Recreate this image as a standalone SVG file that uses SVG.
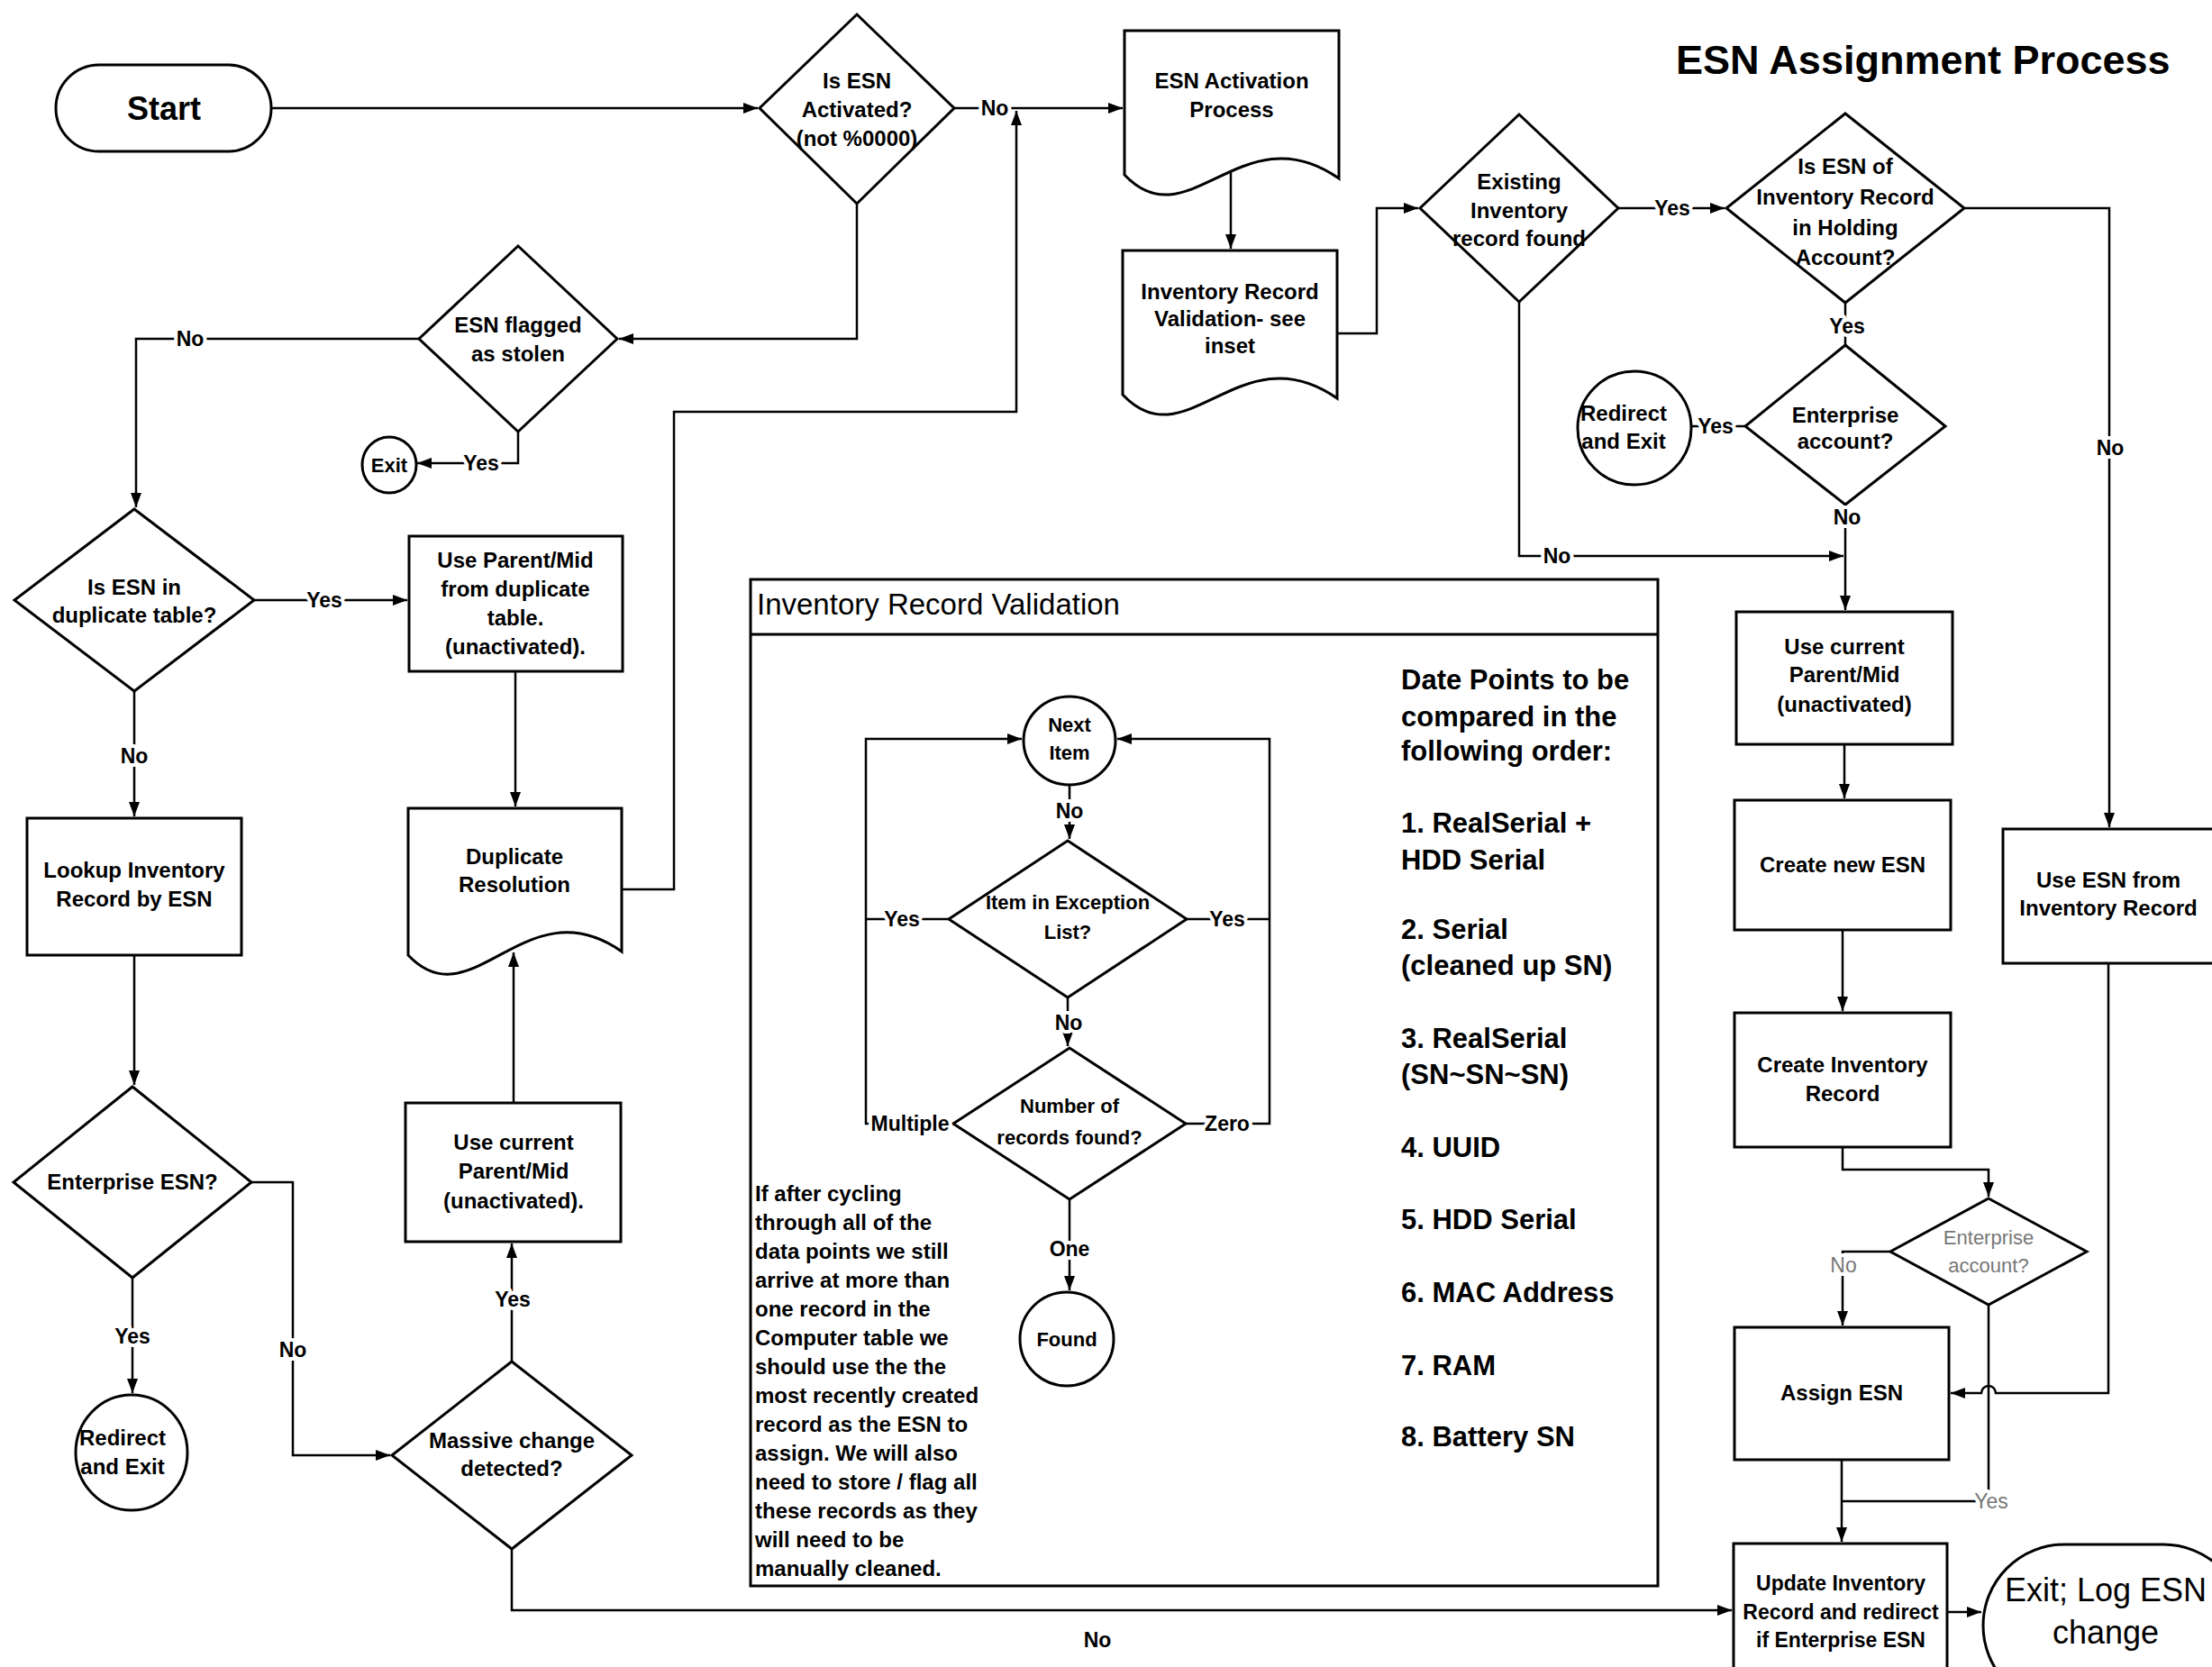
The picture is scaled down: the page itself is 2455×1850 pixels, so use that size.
<svg xmlns="http://www.w3.org/2000/svg" width="2455" height="1850" viewBox="0 0 2455 1850">
<defs>
<style>
.s{fill:#fff;stroke:#000;stroke-width:3}
.c{fill:none;stroke:#000;stroke-width:2.5}
.t{font-family:'Liberation Sans',Arial,sans-serif;font-weight:bold;font-size:24px;text-anchor:middle;fill:#000}
.l{font-family:'Liberation Sans',Arial,sans-serif;font-weight:bold;font-size:23px;text-anchor:middle;fill:#000;paint-order:stroke;stroke:#fff;stroke-width:8px;stroke-linejoin:round}
.gr{fill:#777;font-weight:normal}
.n{font-family:'Liberation Sans',Arial,sans-serif;font-weight:bold;font-size:24px;fill:#000}
.dp{font-family:'Liberation Sans',Arial,sans-serif;font-weight:bold;font-size:31px;fill:#000}
</style>
<marker id="ah" viewBox="0 0 16 12" refX="16" refY="6" markerWidth="16" markerHeight="12" markerUnits="userSpaceOnUse" orient="auto"><path d="M0,0 L16,6 L0,12 z" fill="#000"/></marker>
</defs>
<rect width="2455" height="1850" fill="#fff"/>

<text x="1860" y="82" style="font-family:'Liberation Sans',Arial,sans-serif;font-weight:bold;font-size:45px">ESN Assignment Process</text>

<g id="validation-inset">
<rect class="s" x="833" y="643" width="1007" height="1117"/>
<line x1="833" y1="704" x2="1840" y2="704" stroke="#000" stroke-width="3"/>
<text x="840" y="682" style="font-family:'Liberation Sans',Arial,sans-serif;font-size:33px">Inventory Record Validation</text>
</g>

<g id="start"><rect class="s" x="62" y="72" width="239" height="96" rx="48"/><text class="t" x="182" y="133" style="font-size:36px">Start</text></g>

<g id="activated"><polygon class="s" points="951,16 1059,120 951,226 843,120"/>
<text class="t" x="951" y="98">Is ESN</text><text class="t" x="951" y="130">Activated?</text><text class="t" x="951" y="162">(not %0000)</text></g>

<g id="stolen"><polygon class="s" points="575,273 685,376 575,479 465,376"/>
<text class="t" x="575" y="369">ESN flagged</text><text class="t" x="575" y="401">as stolen</text></g>

<g id="exit-stolen"><ellipse class="s" cx="432" cy="516" rx="30" ry="31"/><text class="t" x="432" y="524" style="font-size:22px">Exit</text></g>

<g id="dup-table"><polygon class="s" points="149,565 282,666 149,767 16,666"/>
<text class="t" x="149" y="660">Is ESN in</text><text class="t" x="149" y="691">duplicate table?</text></g>

<g id="use-parent-dup"><rect class="s" x="454" y="595" width="237" height="150"/>
<text class="t" x="572" y="630">Use Parent/Mid</text><text class="t" x="572" y="662">from duplicate</text><text class="t" x="572" y="694">table.</text><text class="t" x="572" y="726">(unactivated).</text></g>

<g id="dup-resolution"><path class="s" d="M453,897 H690 V1056 C583,981 524,1135 453,1060 Z"/>
<text class="t" x="571" y="959">Duplicate</text><text class="t" x="571" y="990">Resolution</text></g>

<g id="lookup"><rect class="s" x="30" y="908" width="238" height="152"/>
<text class="t" x="149" y="974">Lookup Inventory</text><text class="t" x="149" y="1006">Record by ESN</text></g>

<g id="enterprise-esn"><polygon class="s" points="147,1206 279,1312 147,1418 15,1312"/>
<text class="t" x="147" y="1320">Enterprise ESN?</text></g>

<g id="redirect-left"><ellipse class="s" cx="146" cy="1612" rx="62" ry="64"/>
<text class="t" x="136" y="1604">Redirect</text><text class="t" x="136" y="1636">and Exit</text></g>

<g id="massive"><polygon class="s" points="568,1511 701,1615 568,1719 435,1615"/>
<text class="t" x="568" y="1607">Massive change</text><text class="t" x="568" y="1638">detected?</text></g>

<g id="use-current-left"><rect class="s" x="450" y="1224" width="239" height="154"/>
<text class="t" x="570" y="1276">Use current</text><text class="t" x="570" y="1308">Parent/Mid</text><text class="t" x="570" y="1341">(unactivated).</text></g>

<g id="activation-process"><path class="s" d="M1248,34 H1486 V198 C1379,123 1319,269 1248,194 Z"/>
<text class="t" x="1367" y="98">ESN Activation</text><text class="t" x="1367" y="130">Process</text></g>

<g id="validation-doc"><path class="s" d="M1246,278 H1484 V442 C1377,367 1317,513 1246,438 Z"/>
<text class="t" x="1365" y="332">Inventory Record</text><text class="t" x="1365" y="362">Validation- see</text><text class="t" x="1365" y="392">inset</text></g>

<g id="existing"><polygon class="s" points="1686,127 1796,231 1686,335 1576,231"/>
<text class="t" x="1686" y="210">Existing</text><text class="t" x="1686" y="242">Inventory</text><text class="t" x="1686" y="273">record found</text></g>

<g id="holding"><polygon class="s" points="2048,126 2180,231 2048,336 1916,231"/>
<text class="t" x="2048" y="193">Is ESN of</text><text class="t" x="2048" y="227">Inventory Record</text><text class="t" x="2048" y="261">in Holding</text><text class="t" x="2048" y="294">Account?</text></g>

<g id="enterprise-account-top"><polygon class="s" points="2048,383 2159,473 2048,560 1937,473"/>
<text class="t" x="2048" y="469">Enterprise</text><text class="t" x="2048" y="498">account?</text></g>

<g id="redirect-right"><circle class="s" cx="1814" cy="475" r="63"/>
<text class="t" x="1802" y="467">Redirect</text><text class="t" x="1802" y="498">and Exit</text></g>

<g id="use-current-right"><rect class="s" x="1927" y="679" width="240" height="147"/>
<text class="t" x="2047" y="726">Use current</text><text class="t" x="2047" y="757">Parent/Mid</text><text class="t" x="2047" y="790">(unactivated)</text></g>

<g id="create-esn"><rect class="s" x="1925" y="888" width="240" height="144"/>
<text class="t" x="2045" y="968">Create new ESN</text></g>

<g id="create-record"><rect class="s" x="1925" y="1124" width="240" height="149"/>
<text class="t" x="2045" y="1190">Create Inventory</text><text class="t" x="2045" y="1222">Record</text></g>

<g id="enterprise-account-bottom"><polygon class="s" points="2207,1330 2316,1389 2207,1448 2098,1389"/>
<text class="t gr" x="2207" y="1381" style="font-size:22px">Enterprise</text><text class="t gr" x="2207" y="1412" style="font-size:22px">account?</text></g>

<g id="assign-esn"><rect class="s" x="1925" y="1473" width="238" height="147"/>
<text class="t" x="2044" y="1554">Assign ESN</text></g>

<g id="use-esn-record"><rect class="s" x="2223" y="920" width="250" height="149"/>
<text class="t" x="2340" y="985">Use ESN from</text><text class="t" x="2340" y="1016">Inventory Record</text></g>

<g id="update-record"><rect class="s" x="1924" y="1713" width="237" height="160"/>
<text class="t" x="2043" y="1765" style="font-size:23px">Update Inventory</text><text class="t" x="2043" y="1797" style="font-size:23px">Record and redirect</text><text class="t" x="2043" y="1828" style="font-size:23px">if Enterprise ESN</text></g>

<g id="exit-log"><rect class="s" x="2201" y="1714" width="290" height="180" rx="90"/>
<text class="t" x="2337" y="1777" style="font-size:36px;font-weight:normal">Exit; Log ESN</text><text class="t" x="2337" y="1824" style="font-size:36px;font-weight:normal">change</text></g>

<g id="next-item"><ellipse class="s" cx="1187" cy="822" rx="51" ry="49"/>
<text class="t" x="1187" y="812" style="font-size:22px">Next</text><text class="t" x="1187" y="843" style="font-size:22px">Item</text></g>

<g id="exception"><polygon class="s" points="1185,933 1317,1020 1185,1107 1053,1020"/>
<text class="t" x="1185" y="1009" style="font-size:22px">Item in Exception</text><text class="t" x="1185" y="1042" style="font-size:22px">List?</text></g>

<g id="number-found"><polygon class="s" points="1187,1163 1316,1247 1187,1331 1058,1247"/>
<text class="t" x="1187" y="1235" style="font-size:22px">Number of</text><text class="t" x="1187" y="1270" style="font-size:22px">records found?</text></g>

<g id="found"><circle class="s" cx="1184" cy="1486" r="52"/><text class="t" x="1184" y="1494" style="font-size:22px">Found</text></g>

<g id="note">
<text class="n" x="838" y="1333">If after cycling</text>
<text class="n" x="838" y="1365">through all of the</text>
<text class="n" x="838" y="1397">data points we still</text>
<text class="n" x="838" y="1429">arrive at more than</text>
<text class="n" x="838" y="1461">one record in the</text>
<text class="n" x="838" y="1493">Computer table we</text>
<text class="n" x="838" y="1525">should use the the</text>
<text class="n" x="838" y="1557">most recently created</text>
<text class="n" x="838" y="1589">record as the ESN to</text>
<text class="n" x="838" y="1621">assign. We will also</text>
<text class="n" x="838" y="1653">need to store / flag all</text>
<text class="n" x="838" y="1685">these records as they</text>
<text class="n" x="838" y="1717">will need to be</text>
<text class="n" x="838" y="1749">manually cleaned.</text>
</g>

<g id="data-points">
<text class="dp" x="1555" y="765">Date Points to be</text>
<text class="dp" x="1555" y="806">compared in the</text>
<text class="dp" x="1555" y="844">following order:</text>
<text class="dp" x="1555" y="924">1. RealSerial +</text>
<text class="dp" x="1555" y="965">HDD Serial</text>
<text class="dp" x="1555" y="1042">2. Serial</text>
<text class="dp" x="1555" y="1082">(cleaned up SN)</text>
<text class="dp" x="1555" y="1163">3. RealSerial</text>
<text class="dp" x="1555" y="1203">(SN~SN~SN)</text>
<text class="dp" x="1555" y="1284">4. UUID</text>
<text class="dp" x="1555" y="1364">5. HDD Serial</text>
<text class="dp" x="1555" y="1445">6. MAC Address</text>
<text class="dp" x="1555" y="1526">7. RAM</text>
<text class="dp" x="1555" y="1605">8. Battery SN</text>
</g>

<g id="connectors">
<path class="c" d="M301,120 H841" marker-end="url(#ah)"/>
<path class="c" d="M1059,120 H1246" marker-end="url(#ah)"/>
<path class="c" d="M690,987 H748 V457 H1128 V123" marker-end="url(#ah)"/>
<path class="c" d="M951,226 V376 H687" marker-end="url(#ah)"/>
<path class="c" d="M465,376 H151 V563" marker-end="url(#ah)"/>
<path class="c" d="M575,479 V514 H463" marker-end="url(#ah)"/>
<path class="c" d="M282,666 H452" marker-end="url(#ah)"/>
<path class="c" d="M572,745 V895" marker-end="url(#ah)"/>
<path class="c" d="M149,767 V906" marker-end="url(#ah)"/>
<path class="c" d="M149,1060 V1204" marker-end="url(#ah)"/>
<path class="c" d="M147,1418 V1546" marker-end="url(#ah)"/>
<path class="c" d="M279,1312 H325 V1615 H433" marker-end="url(#ah)"/>
<path class="c" d="M568,1511 V1380" marker-end="url(#ah)"/>
<path class="c" d="M570,1224 V1057" marker-end="url(#ah)"/>
<path class="c" d="M568,1719 V1787 H1922" marker-end="url(#ah)"/>
<path class="c" d="M1366,189 V276" marker-end="url(#ah)"/>
<path class="c" d="M1484,370 H1528 V231 H1574" marker-end="url(#ah)"/>
<path class="c" d="M1796,231 H1914" marker-end="url(#ah)"/>
<path class="c" d="M2048,336 V383"/>
<path class="c" d="M1937,473 H1877"/>
<path class="c" d="M2048,560 V677" marker-end="url(#ah)"/>
<path class="c" d="M1686,335 V617 H2046" marker-end="url(#ah)"/>
<path class="c" d="M2180,231 H2341 V918" marker-end="url(#ah)"/>
<path class="c" d="M2047,826 V886" marker-end="url(#ah)"/>
<path class="c" d="M2045,1032 V1122" marker-end="url(#ah)"/>
<path class="c" d="M2045,1273 V1298 H2207 V1328" marker-end="url(#ah)"/>
<path class="c" d="M2098,1389 H2045 V1471" marker-end="url(#ah)"/>
<path class="c" d="M2207,1448 V1666 H2044"/>
<path class="c" d="M2044,1620 V1711" marker-end="url(#ah)"/>
<path class="c" d="M2340,1069 V1546 H2215 A8,8 0 0 0 2199,1546 H2165" marker-end="url(#ah)"/>
<path class="c" d="M2161,1789 H2199" marker-end="url(#ah)"/>
<path class="c" d="M1058,1247 H961 V820 H1134" marker-end="url(#ah)"/>
<path class="c" d="M1053,1020 H961"/>
<path class="c" d="M1316,1247 H1409 V820 H1240" marker-end="url(#ah)"/>
<path class="c" d="M1317,1020 H1409"/>
<path class="c" d="M1187,871 V931" marker-end="url(#ah)"/>
<path class="c" d="M1185,1107 V1161" marker-end="url(#ah)"/>
<path class="c" d="M1187,1331 V1432" marker-end="url(#ah)"/>
<text class="l" x="1104" y="128">No</text>
<text class="l" x="211" y="384">No</text>
<text class="l" x="534" y="522">Yes</text>
<text class="l" x="360" y="674">Yes</text>
<text class="l" x="149" y="847">No</text>
<text class="l" x="147" y="1491">Yes</text>
<text class="l" x="325" y="1506">No</text>
<text class="l" x="569" y="1450">Yes</text>
<text class="l" x="1218" y="1828">No</text>
<text class="l" x="1856" y="239">Yes</text>
<text class="l" x="2050" y="370">Yes</text>
<text class="l" x="1904" y="481">Yes</text>
<text class="l" x="2050" y="582">No</text>
<text class="l" x="1728" y="625">No</text>
<text class="l" x="2342" y="505">No</text>
<text class="l gr" x="2046" y="1412">No</text>
<text class="l gr" x="2210" y="1674">Yes</text>
<text class="l" x="1001" y="1028">Yes</text>
<text class="l" x="1362" y="1028">Yes</text>
<text class="l" x="1187" y="908">No</text>
<text class="l" x="1186" y="1143">No</text>
<text class="l" x="1010" y="1255">Multiple</text>
<text class="l" x="1362" y="1255">Zero</text>
<text class="l" x="1187" y="1394">One</text>
</g>
</svg>
